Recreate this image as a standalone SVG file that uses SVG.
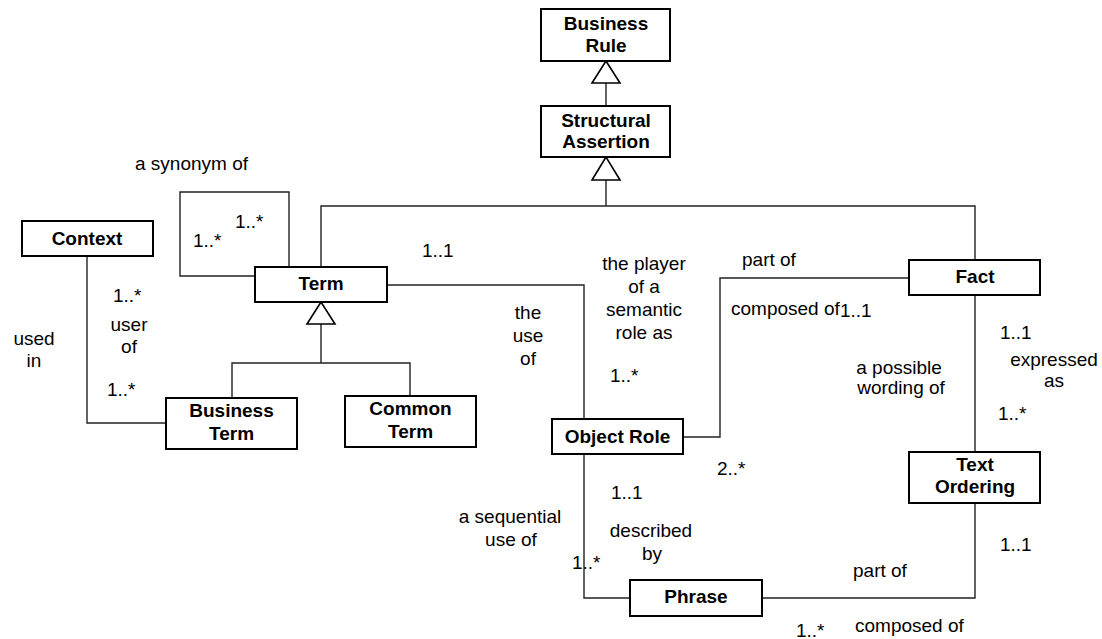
<svg xmlns="http://www.w3.org/2000/svg" width="1102" height="639" viewBox="0 0 1102 639">
  <style>
    .box { fill: #fff; stroke: #000; stroke-width: 2; }
    .name { font-family: "Liberation Sans", Arial, sans-serif; font-weight: bold; font-size: 19px; fill: #000; text-anchor: middle; }
    .lbl { font-family: "Liberation Sans", Arial, sans-serif; font-size: 19px; fill: #000; }
    .mid { text-anchor: middle; }
    .conn { fill: none; stroke: #222; stroke-width: 1.4; }
    .gen { fill: #fff; stroke: #000; stroke-width: 1.6; }
  </style>

  <rect width="1102" height="639" fill="#fff"/>

  <!-- connectors -->
  <g id="connectors">
    <!-- generalisation: Structural Assertion -> Business Rule -->
    <line class="conn" x1="606" y1="83" x2="606" y2="106"/>
    <polygon class="gen" points="606,61 592,83 620,83"/>
    <!-- generalisation: Term / Fact -> Structural Assertion -->
    <polyline class="conn" points="321,267 321,206 975,206 975,260"/>
    <line class="conn" x1="606" y1="180" x2="606" y2="206"/>
    <polygon class="gen" points="606,157 592,180 620,180"/>
    <!-- generalisation: Business Term / Common Term -> Term -->
    <polyline class="conn" points="232,398 232,363 410,363 410,396"/>
    <line class="conn" x1="321" y1="324" x2="321" y2="363"/>
    <polygon class="gen" points="321,302 307,324 335,324"/>
    <!-- Term synonym self-association -->
    <polyline class="conn" points="255,276 180,276 180,192 289,192 289,267"/>
    <!-- Context - Business Term -->
    <polyline class="conn" points="87,256 87,423 166,423"/>
    <!-- Term - Object Role -->
    <polyline class="conn" points="387,285 584,285 584,419"/>
    <!-- Object Role - Fact -->
    <polyline class="conn" points="683,437 720,437 720,278 909,278"/>
    <!-- Fact - Text Ordering -->
    <line class="conn" x1="975" y1="295" x2="975" y2="452"/>
    <!-- Object Role - Phrase -->
    <polyline class="conn" points="584,454 584,598 630,598"/>
    <!-- Phrase - Text Ordering -->
    <polyline class="conn" points="762,598 975,598 975,503"/>
  </g>

  <!-- nodes -->
  <g id="business-rule">
    <rect class="box" x="541" y="9" width="129" height="52"/>
    <text class="name" x="606" y="30">Business</text>
    <text class="name" x="606" y="52">Rule</text>
  </g>
  <g id="structural-assertion">
    <rect class="box" x="541" y="106" width="129" height="51"/>
    <text class="name" x="606" y="127">Structural</text>
    <text class="name" x="606" y="148">Assertion</text>
  </g>
  <g id="context">
    <rect class="box" x="22" y="221" width="131" height="35"/>
    <text class="name" x="87" y="245">Context</text>
  </g>
  <g id="term">
    <rect class="box" x="255" y="267" width="132" height="35"/>
    <text class="name" x="321" y="290">Term</text>
  </g>
  <g id="business-term">
    <rect class="box" x="166" y="398" width="131" height="51"/>
    <text class="name" x="231.5" y="417">Business</text>
    <text class="name" x="231.5" y="440">Term</text>
  </g>
  <g id="common-term">
    <rect class="box" x="345" y="396" width="131" height="51"/>
    <text class="name" x="410.5" y="415">Common</text>
    <text class="name" x="410.5" y="438">Term</text>
  </g>
  <g id="object-role">
    <rect class="box" x="552" y="419" width="131" height="35"/>
    <text class="name" x="617.5" y="443">Object Role</text>
  </g>
  <g id="fact">
    <rect class="box" x="909" y="260" width="131" height="35"/>
    <text class="name" x="975" y="283">Fact</text>
  </g>
  <g id="text-ordering">
    <rect class="box" x="909" y="452" width="131" height="51"/>
    <text class="name" x="975" y="471">Text</text>
    <text class="name" x="975" y="493">Ordering</text>
  </g>
  <g id="phrase">
    <rect class="box" x="630" y="580" width="132" height="36"/>
    <text class="name" x="696" y="603">Phrase</text>
  </g>

  <!-- association labels and multiplicities -->
  <g id="labels">
    <text class="lbl" x="135" y="170">a synonym of</text>
    <text class="lbl" x="193" y="247">1..*</text>
    <text class="lbl" x="235" y="228">1..*</text>

    <text class="lbl" x="113" y="302">1..*</text>
    <text class="lbl mid" x="129" y="331">user</text>
    <text class="lbl mid" x="129" y="353">of</text>
    <text class="lbl" x="107" y="396">1..*</text>
    <text class="lbl mid" x="34" y="345">used</text>
    <text class="lbl mid" x="34" y="367">in</text>

    <text class="lbl" x="422" y="257">1..1</text>
    <text class="lbl mid" x="528" y="319">the</text>
    <text class="lbl mid" x="528" y="342">use</text>
    <text class="lbl mid" x="528" y="365">of</text>
    <text class="lbl mid" x="644" y="270">the player</text>
    <text class="lbl mid" x="644" y="293">of a</text>
    <text class="lbl mid" x="644" y="316">semantic</text>
    <text class="lbl mid" x="644" y="339">role as</text>
    <text class="lbl" x="610" y="382">1..*</text>

    <text class="lbl" x="742" y="266">part of</text>
    <text class="lbl" x="731" y="315">composed of</text>
    <text class="lbl" x="840" y="317">1..1</text>
    <text class="lbl" x="717" y="475">2..*</text>

    <text class="lbl" x="1000" y="339">1..1</text>
    <text class="lbl mid" x="1054" y="366">expressed</text>
    <text class="lbl mid" x="1054" y="387">as</text>
    <text class="lbl" x="998" y="420">1..*</text>
    <text class="lbl mid" x="899" y="374">a possible</text>
    <text class="lbl mid" x="901" y="394">wording of</text>

    <text class="lbl" x="611" y="499">1..1</text>
    <text class="lbl mid" x="651" y="537">described</text>
    <text class="lbl mid" x="652" y="560">by</text>
    <text class="lbl" x="572" y="569">1..*</text>
    <text class="lbl mid" x="510" y="523">a sequential</text>
    <text class="lbl mid" x="511" y="546">use of</text>

    <text class="lbl" x="853" y="577">part of</text>
    <text class="lbl" x="1000" y="551">1..1</text>
    <text class="lbl" x="796" y="637">1..*</text>
    <text class="lbl" x="855" y="632">composed of</text>
  </g>
</svg>
